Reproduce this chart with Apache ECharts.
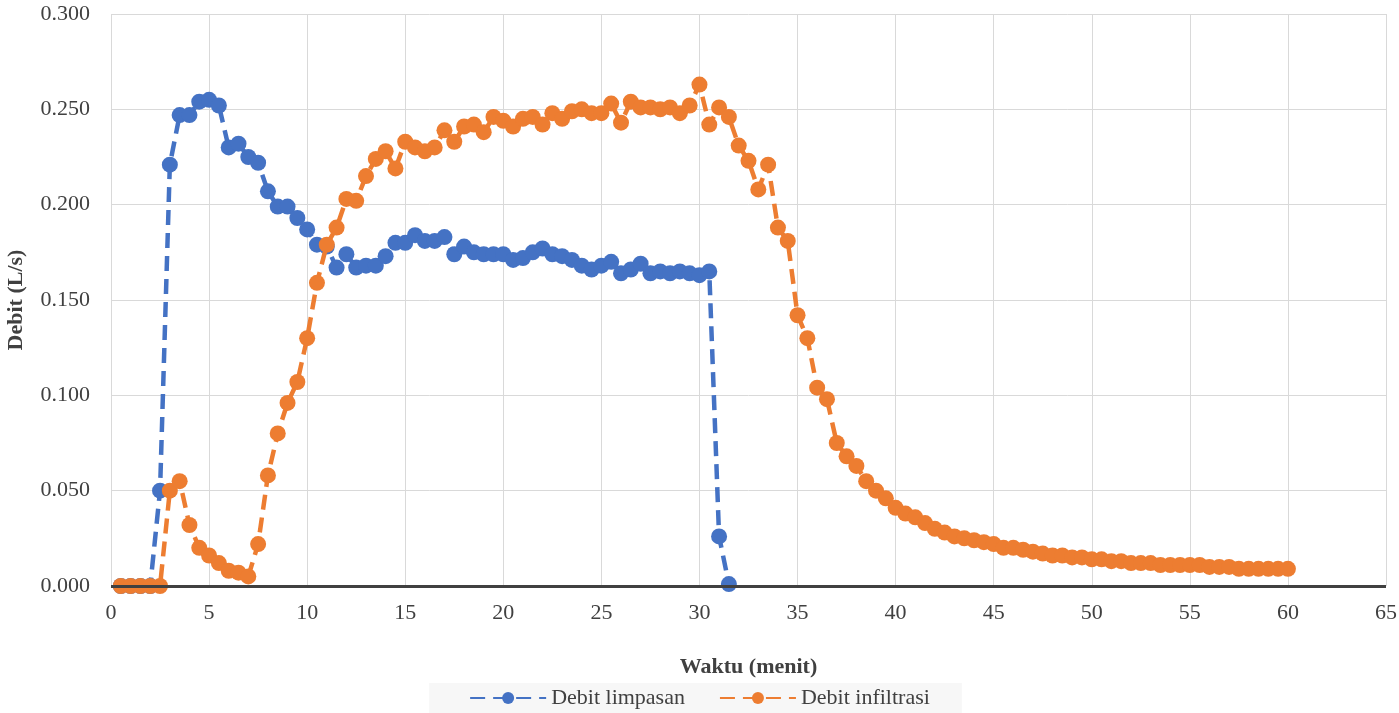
<!DOCTYPE html>
<html><head><meta charset="utf-8">
<script src="https://cdn.jsdelivr.net/npm/echarts@6/dist/echarts.min.js"></script>
<style>html,body{margin:0;padding:0;background:#fff}#c{width:1399px;height:713px}</style>
</head><body><div id="c"></div>
<script>
const timeRunoff = [0.5,1,1.5,2,2.5,3,3.5,4,4.5,5,5.5,6,6.5,7,7.5,8,8.5,9,9.5,10,10.5,11,11.5,12,12.5,13,13.5,14,14.5,15,15.5,16,16.5,17,17.5,18,18.5,19,19.5,20,20.5,21,21.5,22,22.5,23,23.5,24,24.5,25,25.5,26,26.5,27,27.5,28,28.5,29,29.5,30,30.5,31,31.5];
const debitLimpasan = [0,0,0,0,0.050,0.221,0.247,0.247,0.254,0.255,0.252,0.230,0.232,0.225,0.222,0.207,0.199,0.199,0.193,0.187,0.179,0.178,0.167,0.174,0.167,0.168,0.168,0.173,0.180,0.180,0.184,0.181,0.181,0.183,0.174,0.178,0.175,0.174,0.174,0.174,0.171,0.172,0.175,0.177,0.174,0.173,0.171,0.168,0.166,0.168,0.170,0.164,0.166,0.169,0.164,0.165,0.164,0.165,0.164,0.163,0.165,0.026,0.001];
const timeInfil = [0.5,1,1.5,2,2.5,3,3.5,4,4.5,5,5.5,6,6.5,7,7.5,8,8.5,9,9.5,10,10.5,11,11.5,12,12.5,13,13.5,14,14.5,15,15.5,16,16.5,17,17.5,18,18.5,19,19.5,20,20.5,21,21.5,22,22.5,23,23.5,24,24.5,25,25.5,26,26.5,27,27.5,28,28.5,29,29.5,30,30.5,31,31.5,32,32.5,33,33.5,34,34.5,35,35.5,36,36.5,37,37.5,38,38.5,39,39.5,40,40.5,41,41.5,42,42.5,43,43.5,44,44.5,45,45.5,46,46.5,47,47.5,48,48.5,49,49.5,50,50.5,51,51.5,52,52.5,53,53.5,54,54.5,55,55.5,56,56.5,57,57.5,58,58.5,59,59.5,60];
const debitInfiltrasi = [0,0,0,0,0,0.050,0.055,0.032,0.020,0.016,0.012,0.008,0.007,0.005,0.022,0.058,0.080,0.096,0.107,0.130,0.159,0.179,0.188,0.203,0.202,0.215,0.224,0.228,0.219,0.233,0.230,0.228,0.230,0.239,0.233,0.241,0.242,0.238,0.246,0.244,0.241,0.245,0.246,0.242,0.248,0.245,0.249,0.250,0.248,0.248,0.253,0.243,0.254,0.251,0.251,0.250,0.251,0.248,0.252,0.263,0.242,0.251,0.246,0.231,0.223,0.208,0.221,0.188,0.181,0.142,0.130,0.104,0.098,0.075,0.068,0.063,0.055,0.050,0.046,0.041,0.038,0.036,0.033,0.030,0.028,0.026,0.025,0.024,0.023,0.022,0.020,0.020,0.019,0.018,0.017,0.016,0.016,0.015,0.015,0.014,0.014,0.013,0.013,0.012,0.012,0.012,0.011,0.011,0.011,0.011,0.011,0.010,0.010,0.010,0.009,0.009,0.009,0.009,0.009,0.009];
const seriesNames = ['Debit limpasan','Debit infiltrasi'];
const xTitle = 'Waktu (menit)';
const yTitle = 'Debit (L/s)';

const font = '"Liberation Serif","Times New Roman",serif';
const chart = echarts.init(document.getElementById('c'));
const pair = (xs, ys) => xs.map((x, i) => [x, ys[i]]);
chart.setOption({
  animation: false,
  textStyle: { fontFamily: font },
  grid: { left: 111, right: 13, top: 14, bottom: 127, containLabel: false, outerBoundsMode: 'none' },
  xAxis: {
    type: 'value', min: 0, max: 65, interval: 5,
    name: xTitle, nameLocation: 'middle', nameGap: 70,
    nameTextStyle: { fontFamily: font, fontSize: 22, fontWeight: 'bold', color: '#404040' },
    axisLine: { show: false },
    axisTick: { show: false },
    axisLabel: { fontFamily: font, fontSize: 22, color: '#404040', margin: 16 },
    splitLine: { show: true, lineStyle: { color: '#d9d9d9', width: 1 } }
  },
  yAxis: {
    type: 'value', min: 0, max: 0.3, interval: 0.05,
    name: yTitle, nameLocation: 'middle', nameGap: 84,
    nameTextStyle: { fontFamily: font, fontSize: 22, fontWeight: 'bold', color: '#404040' },
    axisLine: { show: false },
    axisTick: { show: false },
    axisLabel: { fontFamily: font, fontSize: 22, color: '#404040', margin: 21, formatter: v => v.toFixed(3) },
    splitLine: { show: true, lineStyle: { color: '#d9d9d9', width: 1 } }
  },
  legend: {
    bottom: 0, left: 'center',
    data: seriesNames,
    backgroundColor: '#f7f7f7',
    padding: [4, 32, 4, 40],
    itemGap: 34, itemWidth: 76, itemHeight: 15,
    textStyle: { fontFamily: font, fontSize: 22, color: '#404040' }
  },
  series: [
    {
      name: seriesNames[0], type: 'line', data: pair(timeRunoff, debitLimpasan),
      symbol: 'circle', symbolSize: 16, z: 3,
      itemStyle: { color: '#4472c4' },
      lineStyle: { color: '#4472c4', width: 4.5, type: [15, 8] },
      markLine: {
        silent: true, symbol: 'none', label: { show: false },
        lineStyle: { color: '#404040', width: 3, type: 'solid' },
        data: [{ yAxis: 0 }]
      }
    },
    {
      name: seriesNames[1], type: 'line', data: pair(timeInfil, debitInfiltrasi),
      symbol: 'circle', symbolSize: 16, z: 4,
      itemStyle: { color: '#ed7d31' },
      lineStyle: { color: '#ed7d31', width: 4.5, type: [15, 8] }
    }
  ]
});
</script></body></html>
